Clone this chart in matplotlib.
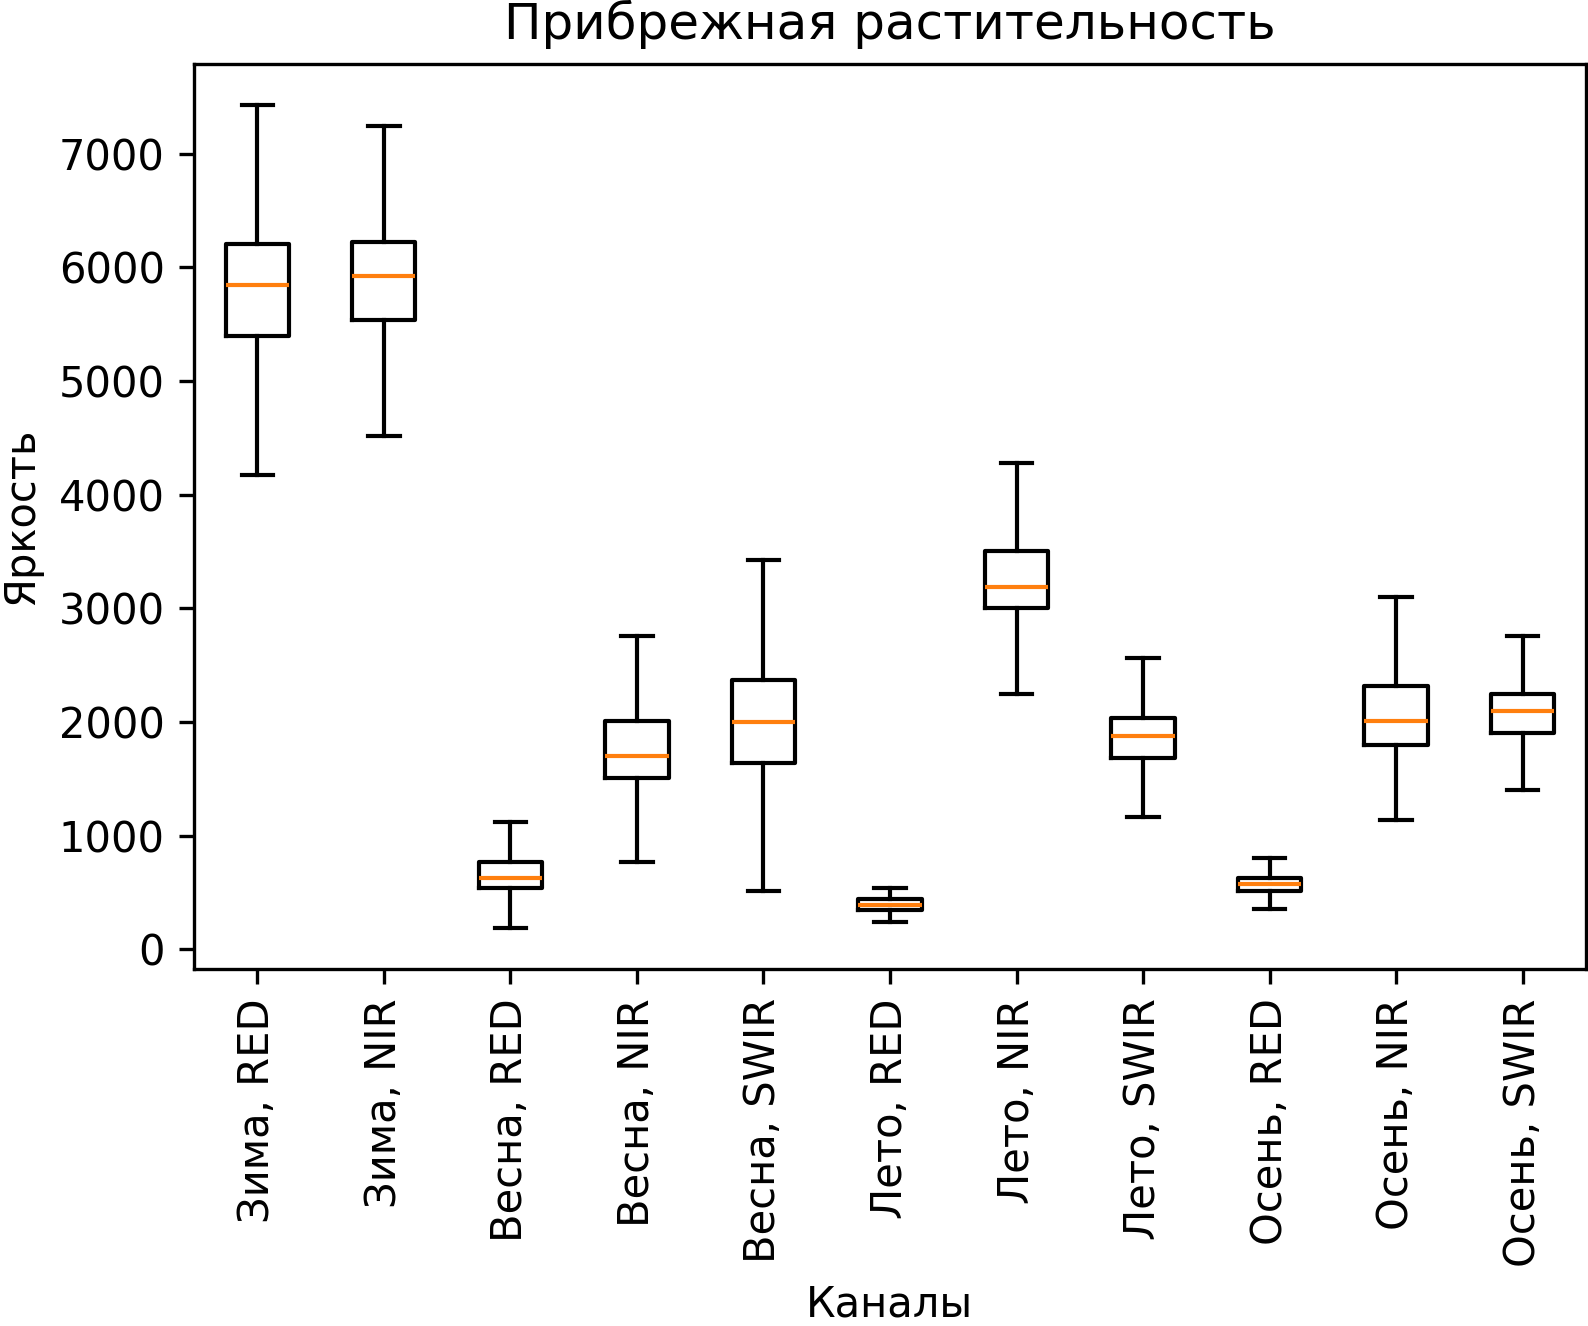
import matplotlib
matplotlib.use('Agg')
import matplotlib.pyplot as plt

# каналы
labels = ['Зима, RED', 'Зима, NIR', 'Весна, RED', 'Весна, NIR', 'Весна, SWIR',
          'Лето, RED', 'Лето, NIR', 'Лето, SWIR', 'Осень, RED', 'Осень, NIR', 'Осень, SWIR']

# статистики ящиков
whislo = [4176, 4515, 187, 766, 516, 240, 2244, 1166, 356, 1140, 1398]
q1 = [5396, 5539, 534, 1505, 1638, 347, 3001, 1683, 516, 1799, 1906]
med = [5841, 5922, 623, 1701, 1995, 392, 3188, 1879, 570, 2012, 2093]
q3 = [6207, 6224, 766, 2004, 2369, 445, 3508, 2030, 623, 2315, 2244]
whishi = [7427, 7240, 1122, 2752, 3428, 534, 4274, 2565, 801, 3099, 2760]

stats = []
for i in range(len(labels)):
    stats.append({'label': labels[i], 'whislo': whislo[i], 'q1': q1[i], 'med': med[i],
                  'q3': q3[i], 'whishi': whishi[i], 'fliers': []})

fig = plt.figure(figsize=(1588 / 300, 1326 / 300), dpi=300)
ax = fig.add_axes([0.1222, 0.2692, 0.8765, 0.6825])
ax.bxp(stats, showfliers=False)
ax.set_xticklabels(labels, rotation=90)
ax.set_title('Прибрежная растительность')
ax.set_xlabel('Каналы')
ax.set_ylabel('Яркость')

plt.savefig('out.png', dpi=300)
